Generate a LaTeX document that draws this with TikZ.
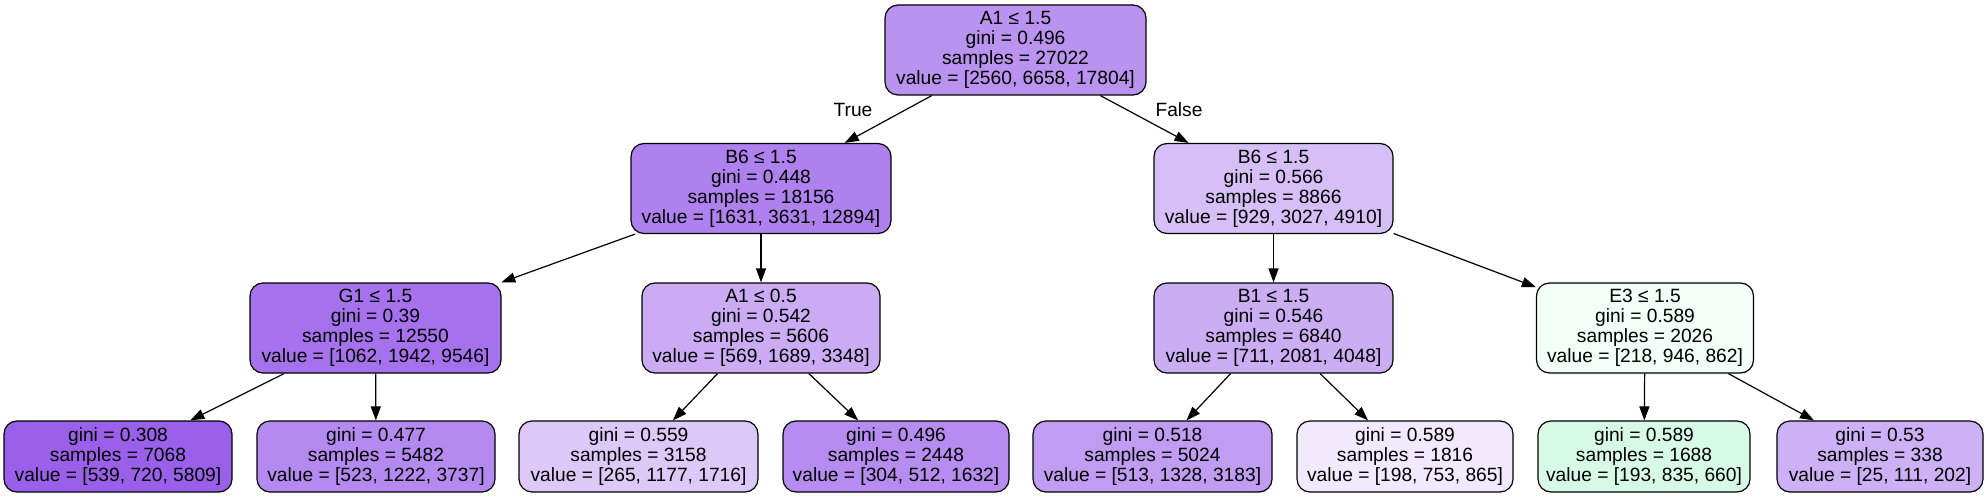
\documentclass[tikz,border=0pt]{standalone}
\usepackage{fontspec}
\setmainfont{Liberation Sans}
\usetikzlibrary{arrows.meta}
\definecolor{cRoot}{RGB}{186,147,241}
\definecolor{cBL}{RGB}{175,129,238}
\definecolor{cBR}{RGB}{214,191,247}
\definecolor{cG}{RGB}{165,113,236}
\definecolor{cA}{RGB}{202,171,244}
\definecolor{cB}{RGB}{203,173,244}
\definecolor{cE}{RGB}{241,253,246}
\definecolor{cLa}{RGB}{154,96,234}
\definecolor{cLb}{RGB}{181,138,240}
\definecolor{cLc}{RGB}{221,201,248}
\definecolor{cLd}{RGB}{182,140,240}
\definecolor{cLe}{RGB}{192,156,242}
\definecolor{cLf}{RGB}{242,234,252}
\definecolor{cLg}{RGB}{214,250,229}
\definecolor{cLh}{RGB}{205,176,245}
\tikzset{
  tnode/.style={draw=black, line width=1.2pt, rounded corners=13pt, inner sep=0pt,
    align=center, font=\fontsize{19.2}{20}\selectfont, minimum height=90pt},
  leafnode/.style={tnode, minimum height=71pt},
  edgeline/.style={line width=1.2pt, draw=black, -{Triangle[length=14pt,width=10pt]}},
  elabel/.style={font=\fontsize{19.2}{20}\selectfont, inner sep=0pt}
}
\begin{document}
\begin{tikzpicture}[x=1pt,y=-1pt]
\fill[white] (0,0) rectangle (1988,497);
\useasboundingbox (0,0) rectangle (1988,497);
% level 1
\node[tnode, fill=cRoot, minimum width=261pt] (root) at (1015.5,50) {A1 ≤ 1.5\\gini = 0.496\\samples = 27022\\value = [2560, 6658, 17804]};
% level 2
\node[tnode, fill=cBL, minimum width=260pt] (bl) at (761,188.5) {B6 ≤ 1.5\\gini = 0.448\\samples = 18156\\value = [1631, 3631, 12894]};
\node[tnode, fill=cBR, minimum width=239pt] (br) at (1273.5,188.5) {B6 ≤ 1.5\\gini = 0.566\\samples = 8866\\value = [929, 3027, 4910]};
% level 3
\node[tnode, fill=cG, minimum width=251pt] (g1) at (375.5,328) {G1 ≤ 1.5\\gini = 0.39\\samples = 12550\\value = [1062, 1942, 9546]};
\node[tnode, fill=cA, minimum width=238pt] (a1) at (761,328) {A1 ≤ 0.5\\gini = 0.542\\samples = 5606\\value = [569, 1689, 3348]};
\node[tnode, fill=cB, minimum width=239pt] (b1) at (1273.5,328) {B1 ≤ 1.5\\gini = 0.546\\samples = 6840\\value = [711, 2081, 4048]};
\node[tnode, fill=cE, minimum width=217pt] (e3) at (1645,328) {E3 ≤ 1.5\\gini = 0.589\\samples = 2026\\value = [218, 946, 862]};
% leaves
\node[leafnode, fill=cLa, minimum width=228pt] (l1) at (118,456.5) {gini = 0.308\\samples = 7068\\value = [539, 720, 5809]};
\node[leafnode, fill=cLb, minimum width=238pt] (l2) at (376,456.5) {gini = 0.477\\samples = 5482\\value = [523, 1222, 3737]};
\node[leafnode, fill=cLc, minimum width=239pt] (l3) at (638.5,456.5) {gini = 0.559\\samples = 3158\\value = [265, 1177, 1716]};
\node[leafnode, fill=cLd, minimum width=226pt] (l4) at (896,456.5) {gini = 0.496\\samples = 2448\\value = [304, 512, 1632]};
\node[leafnode, fill=cLe, minimum width=239pt] (l5) at (1152.5,456.5) {gini = 0.518\\samples = 5024\\value = [513, 1328, 3183]};
\node[leafnode, fill=cLf, minimum width=216pt] (l6) at (1405,456.5) {gini = 0.589\\samples = 1816\\value = [198, 753, 865]};
\node[leafnode, fill=cLg, minimum width=212pt] (l7) at (1644,456.5) {gini = 0.589\\samples = 1688\\value = [193, 835, 660]};
\node[leafnode, fill=cLh, minimum width=206pt] (l8) at (1880,456.5) {gini = 0.53\\samples = 338\\value = [25, 111, 202]};
% edges
\draw[edgeline] (root) -- (bl);
\draw[edgeline] (root) -- (br);
\draw[edgeline] (bl) -- (g1);
\draw[edgeline] (bl) -- (a1);
\draw[edgeline] (g1) -- (l1);
\draw[edgeline] (g1) -- (l2);
\draw[edgeline] (a1) -- (l3);
\draw[edgeline] (a1) -- (l4);
\draw[edgeline] (br) -- (b1);
\draw[edgeline] (br) -- (e3);
\draw[edgeline] (b1) -- (l5);
\draw[edgeline] (b1) -- (l6);
\draw[edgeline] (e3) -- (l7);
\draw[edgeline] (e3) -- (l8);
% edge labels
\node[elabel] (ltrue) at (853,110) {True};
\node[elabel] (lfalse) at (1179,110) {False};
\end{tikzpicture}
\end{document}
